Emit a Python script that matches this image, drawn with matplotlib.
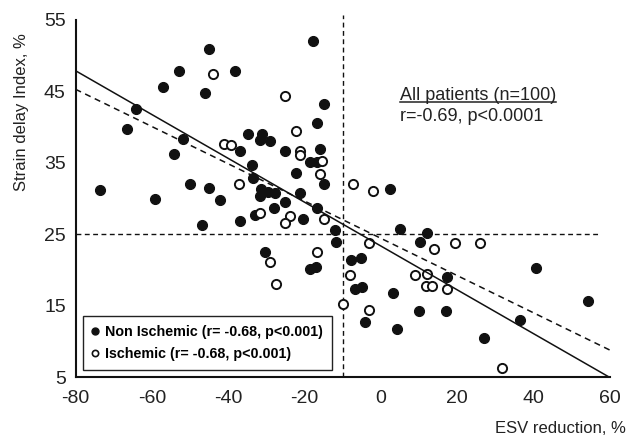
import matplotlib
matplotlib.use('Agg')
import matplotlib.pyplot as plt
import numpy as np
from matplotlib.lines import Line2D

plt.rcParams['font.family'] = ['Liberation Sans', 'DejaVu Sans']
plt.rcParams['axes.unicode_minus'] = False

# ---- data ----
non_isch_x = [-45.1, -52.8, -38.3, -57.2, -46.0, -64.1, -66.5, -51.8, -54.3, -34.8,
              -31.1, -31.8, -29.0, -36.8, -33.8, -33.4, -73.7, -49.9, -45.0, -42.1,
              -59.2, -31.3, -29.5, -27.7, -31.8, -25.0, -17.8, -14.8, -16.7, -15.9,
              -18.5, -16.7, -22.2, -14.8, -21.1, 2.3, -25.0, -28.1, -32.9, -36.8,
              -46.8, -20.3, -16.7, -12.0, -11.7, 5.1, 12.0, 10.3, -30.3, -18.5,
              -16.9, -7.8, -5.1, -6.7, -4.9, 3.1, 17.3, -4.1, 10.1, 17.1,
              4.2, 40.6, 54.3, 36.3, 27.1]
non_isch_y = [51.0, 47.9, 47.9, 45.6, 44.8, 42.5, 39.8, 38.3, 36.2, 39.0,
              39.0, 38.2, 38.0, 36.7, 34.7, 32.9, 31.2, 32.0, 31.5, 29.8,
              29.9, 31.3, 30.9, 30.8, 30.4, 36.7, 52.1, 43.2, 40.6, 36.9,
              35.1, 35.1, 33.6, 32.1, 30.8, 31.3, 29.5, 28.7, 27.7, 26.8,
              26.3, 27.1, 28.6, 25.6, 23.9, 25.7, 25.1, 23.9, 22.5, 20.1,
              20.4, 21.4, 21.7, 17.3, 17.6, 16.7, 19.0, 12.7, 14.3, 14.3,
              11.7, 20.3, 15.7, 13.0, 10.4]
isch_x = [-44.1, -41.2, -39.2, -37.3, -25.2, -22.2, -21.1, -21.1, -15.4, -15.9,
          -7.2, -2.2, -31.6, -29.0, -27.5, -23.9, -25.2, -15.0, -3.2, 13.8,
          19.3, 26.0, -16.7, -8.0, 9.0, 12.0, 11.9, 13.4, 17.4, -9.9,
          -3.2, 31.8]
isch_y = [47.4, 37.7, 37.5, 32.1, 44.3, 39.4, 36.7, 36.1, 35.2, 33.4,
          32.1, 31.0, 27.9, 21.1, 18.0, 27.5, 26.6, 27.1, 23.7, 22.9,
          23.7, 23.7, 22.5, 19.3, 19.3, 19.4, 17.7, 17.7, 17.3, 15.2,
          14.4, 6.2]

# regression lines: (intercept, slope, x range)
fit_solid = (23.34, -0.307, -80, 59.7)
fit_dashed = (24.42, -0.261, -80, 60)
esv_cutoff = -10
sdi_cutoff = 25

x_ticks = [-80, -60, -40, -20, 0, 20, 40, 60]
y_ticks = [5, 15, 25, 35, 45, 55]

W, H = 636, 436
fig = plt.figure(figsize=(W / 100, H / 100), dpi=100)
ax = fig.add_axes([75.5 / W, 1 - 377 / H, 534.5 / W, 357 / H])

ax.plot(non_isch_x, non_isch_y, 'o', ls='none', ms=7.2, mfc='#111111',
        mec='#111111', mew=0.8, zorder=3)
ax.plot(isch_x, isch_y, 'o', ls='none', ms=6.6, mfc='white',
        mec='#111111', mew=1.4, zorder=3)

for (a, b, x0, x1), ls in [(fit_solid, '-'), (fit_dashed, '--')]:
    xs = np.array([x0, x1])
    line, = ax.plot(xs, a + b * xs, color='#111111', lw=1.1, ls=ls, zorder=4)
    if ls == '--':
        line.set_dashes((4, 3))

ax.axvline(esv_cutoff, ymin=0, ymax=1.015, color='#111111', lw=1.0,
           dashes=(3.5, 2.5), clip_on=False, zorder=2)
ax.axhline(sdi_cutoff, xmin=0, xmax=(57.4 + 80) / 140, color='#111111', lw=1.0,
           dashes=(3.5, 2.5), zorder=2)

ax.set_xlim(-80, 60)
ax.set_ylim(5, 55)
ax.set_xticks(x_ticks)
ax.set_yticks(y_ticks)
ax.spines['top'].set_visible(False)
ax.spines['right'].set_visible(False)
for s in ('left', 'bottom'):
    ax.spines[s].set_linewidth(1.5)
    ax.spines[s].set_color('#111111')
ax.tick_params(axis='x', length=0, labelsize=14, pad=9, colors='#222222')
ax.tick_params(axis='y', length=0, labelsize=14, pad=7, colors='#222222')

fig.text(626 / W, 1 - 428 / H, 'ESV reduction, %', ha='right', va='center',
         fontsize=12, color='#222222')
fig.text(21.7 / W, 1 - 112 / H, 'Strain delay Index, %', ha='center',
         va='center', rotation=90, fontsize=12, color='#222222')

t1 = fig.text(400 / W, 1 - 99.5 / H, 'All patients (n=100)', ha='left',
              va='baseline', fontsize=13, color='#222222')
fig.text(400 / W, 1 - 121 / H, 'r=-0.69, p<0.0001', ha='left',
         va='baseline', fontsize=13, color='#222222')

handles = [Line2D([], [], marker='o', ls='none', ms=5, mfc='#111111', mec='#111111'),
           Line2D([], [], marker='o', ls='none', ms=4.5, mfc='white', mec='#111111', mew=1.2)]
labels = ['Non Ischemic (r= -0.68, p<0.001)', 'Ischemic (r= -0.68, p<0.001)']
leg = ax.legend(handles, labels, loc='lower left',
                bbox_to_anchor=(83.3 / W, 1 - 370 / H), bbox_transform=fig.transFigure,
                borderaxespad=0, prop={'weight': 'bold', 'size': 10.3},
                frameon=True, fancybox=False, framealpha=1, edgecolor='#222222',
                handlelength=0.4, handletextpad=0.55, borderpad=0.6, labelspacing=0.6)
leg.get_frame().set_linewidth(1.0)
leg.set_zorder(5)

fig.canvas.draw()
bb = t1.get_window_extent(fig.canvas.get_renderer())
uy = 1 - 101.8 / H
fig.add_artist(Line2D([bb.x0 / W, bb.x1 / W], [uy, uy], color='#222222', lw=1.1))

fig.savefig('out.png', dpi=100)
